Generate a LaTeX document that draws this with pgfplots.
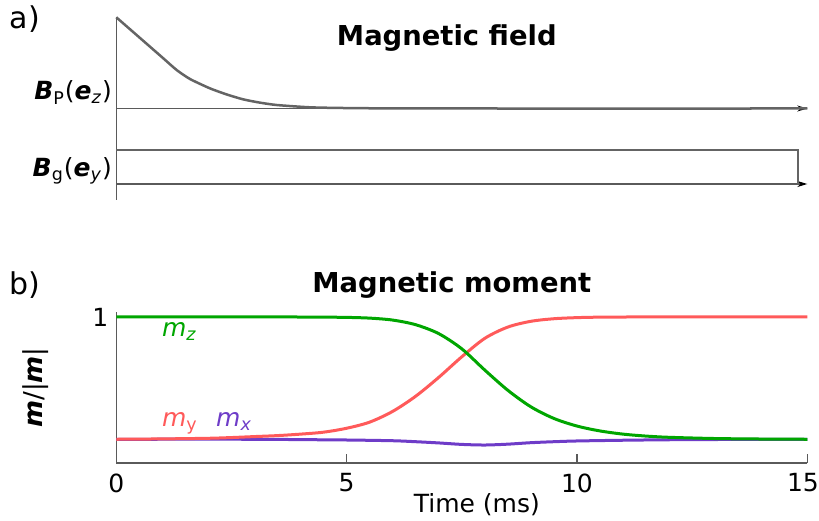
\documentclass[border=0pt]{standalone}
\usepackage{fontspec}
\setmainfont{DejaVu Sans}
\usepackage{pgfplots}
\pgfplotsset{compat=1.18}
\usetikzlibrary{arrows.meta}
\definecolor{cgreen}{RGB}{0,166,0}
\definecolor{cred}{RGB}{255,90,90}
\definecolor{cpurple}{RGB}{110,60,200}
\definecolor{cgray}{RGB}{100,100,100}
\definecolor{caxis}{RGB}{90,90,90}
\begin{document}
\fontsize{12.5}{15}\selectfont
\begin{tikzpicture}
\useasboundingbox (-58.15pt,-28.5pt) rectangle (351.35pt,231.5pt);
% ---------------- top panel ----------------
\begin{axis}[
  at={(0pt,131.5pt)}, anchor=south west,
  scale only axis, width=345.5pt, height=91.5pt,
  xmin=0, xmax=15, ymin=0, ymax=183,
  hide axis, clip=false,
]
\addplot[caxis, line width=0.75pt] coordinates {(0,0) (0,183)};
\addplot[caxis, line width=0.75pt, -{Stealth[length=5pt,width=3pt,black]}] coordinates {(0,91.5) (15,91.5)};
\addplot[caxis, line width=0.75pt, -{Stealth[length=5pt,width=3pt,black]}] coordinates {(0,16) (15,16)};
\addplot[cgray, line width=1.25pt, smooth, tension=0.4] coordinates {
 (0,182.7) (0.5,162.6) (1.0,142.5) (1.31,130) (1.6,121) (2.03,111.7) (2.4,105.5)
 (2.75,100.7) (3.1,97.5) (3.48,95) (4.2,92.7) (4.92,92) (6,91.6) (8,91.5) (15,91.5)};
\addplot[cgray, line width=1.1pt] coordinates {(0,50) (14.8,50) (14.8,16)};
\node[anchor=base east, inner sep=0pt, xshift=-2pt] at (axis cs:0,100)
  {\textbf{\textit{B}}\textsubscript{P}(\textbf{\textit{e}}\textsubscript{\textit{z}})};
\node[anchor=base east, inner sep=0pt, xshift=-2pt] at (axis cs:0,23.3)
  {\textbf{\textit{B}}\textsubscript{g}(\textbf{\textit{e}}\textsubscript{\textit{y}})};
\node[anchor=base, inner sep=0pt, xshift=-7.5pt, font=\fontsize{13.7}{16}\selectfont\bfseries] at (axis cs:7.5,154) {Magnetic field};
\node[anchor=base west, inner sep=0pt, font=\fontsize{15}{18}\selectfont] at (axis cs:-2.32,171) {a)};
\end{axis}
% ---------------- bottom panel ----------------
\begin{axis}[
  at={(0pt,0pt)}, anchor=south west,
  scale only axis, width=345.5pt, height=75.5pt,
  xmin=0, xmax=15, ymin=-0.194, ymax=1.04,
  axis x line*=bottom, axis y line*=left,
  axis line style={caxis, line width=0.75pt},
  xtick={0,5,10}, ytick={1},
  extra x ticks={15},
  extra x tick style={xticklabel style={xshift=-2.2pt}},
  tick align=inside, major tick length=4.5pt,
  x tick style={caxis, line width=0.75pt},
  y tick style={draw=none},
  /pgf/number format/assume math mode=true,
  tick label style={font=\fontsize{12.5}{15}\selectfont, inner sep=0pt},
  xticklabel style={anchor=center, yshift=-10pt},
  yticklabel style={anchor=center, xshift=-8pt},
  xlabel={Time (ms)},
  xlabel style={at={(rel axis cs:0.5,0)}, anchor=center, inner sep=0pt, yshift=-21pt, xshift=7.5pt, font=\fontsize{12.5}{15}\selectfont},
  ylabel={\textbf{\textit{m}}/|\textbf{\textit{m}}|},
  ylabel style={at={(rel axis cs:0,0.5)}, anchor=center, inner sep=0pt, rotate=0, yshift=40.5pt, font=\fontsize{13}{15}\selectfont},
  clip=false,
]
\addplot[cpurple, line width=1.5pt, smooth] coordinates {
 (0,0) (3,0) (4,-0.003) (5,-0.006) (6,-0.012) (6.5,-0.02) (7,-0.03) (7.5,-0.042)
 (8,-0.047) (8.5,-0.04) (9,-0.028) (9.5,-0.02) (10,-0.014) (11,-0.008) (12,-0.004)
 (13,-0.002) (14,-0.001) (15,0)};
\addplot[cred, line width=1.5pt, smooth] coordinates {
 (0,0) (1,0.003) (2,0.008) (2.5,0.014) (3,0.022) (3.5,0.030) (4,0.042) (4.5,0.058)
 (5,0.090) (5.5,0.140) (6,0.228) (6.5,0.352) (7,0.506) (7.5,0.674) (8,0.825)
 (8.5,0.917) (9,0.964) (9.5,0.985) (10,0.994) (10.5,0.998) (11,0.999) (11.5,1)
 (12,1) (13,1) (14,1) (15,1)};
\addplot[cgreen, line width=1.5pt, smooth] coordinates {
 (0,1) (1,1) (2,1) (3,1) (3.5,1) (4,0.999) (4.5,0.998) (5,0.996) (5.5,0.990)
 (6,0.974) (6.5,0.936) (7,0.863) (7.5,0.739) (8,0.565) (8.5,0.400) (9,0.265)
 (9.5,0.170) (10,0.108) (10.5,0.068) (11,0.042) (11.5,0.026) (12,0.016) (13,0.006)
 (14,0.002) (15,0)};
\node[anchor=base west, inner sep=0pt, text=cgreen] at (axis cs:0.985,0.836) {\textit{m}\textsubscript{\textit{z}}};
\node[anchor=base west, inner sep=0pt, text=cred] at (axis cs:0.985,0.103) {\textit{m}\textsubscript{y}};
\node[anchor=base west, inner sep=0pt, text=cpurple] at (axis cs:2.16,0.103) {\textit{m}\textsubscript{\textit{x}}};
\node[anchor=base, inner sep=0pt, xshift=-5pt, font=\fontsize{13.7}{16}\selectfont\bfseries] at (rel axis cs:0.5,1) [yshift=10pt] {Magnetic moment};
\node[anchor=base west, inner sep=0pt, font=\fontsize{15}{18}\selectfont] at (axis cs:-2.32,1.187) {b)};
\end{axis}
\end{tikzpicture}
\end{document}
